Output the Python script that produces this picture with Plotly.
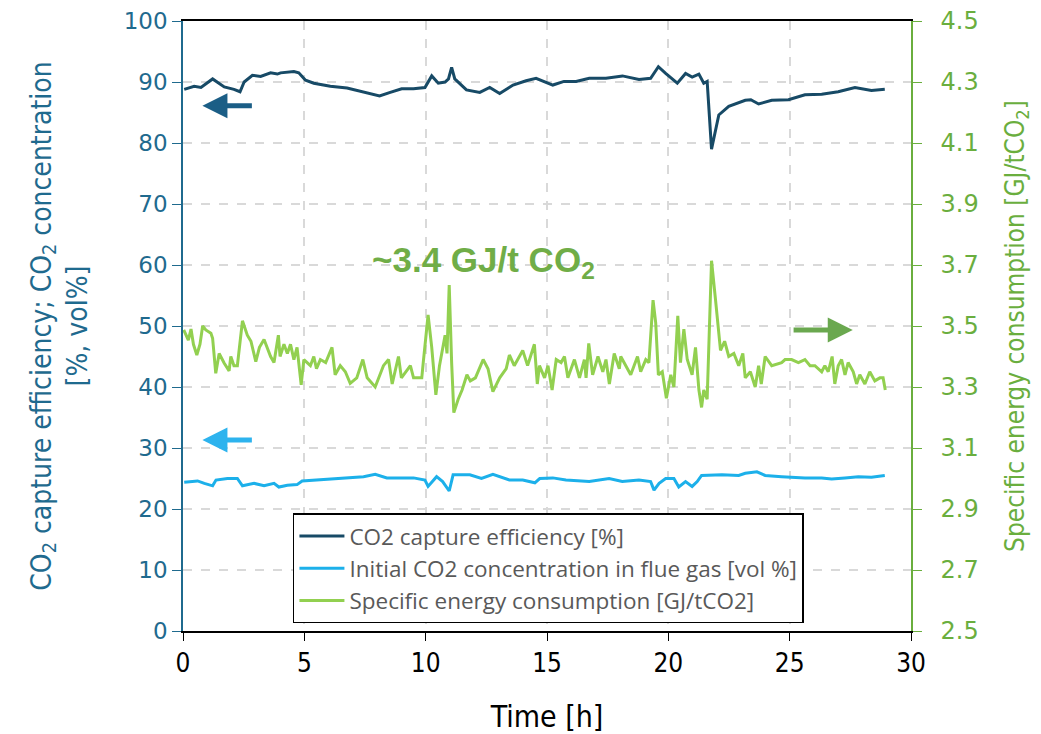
import plotly.graph_objects as go

# Time axis [h] and measured series
t_eff = [0.05, 0.46, 0.74, 1.22, 1.70, 2.10, 2.35, 2.52, 2.86, 3.20, 3.61, 3.89, 4.02, 4.57, 4.77,
         5.05, 5.39, 6.07, 6.76, 7.44, 8.10, 8.54, 9.01, 9.50, 9.97, 10.25, 10.52, 10.80, 10.94,
         11.07, 11.20, 11.68, 12.23, 12.64, 13.05, 13.60, 14.14, 14.55, 15.03, 15.24, 15.70,
         16.20, 16.74, 17.43, 18.11, 18.79, 19.27, 19.59, 19.89, 20.37, 20.71, 20.98, 21.26,
         21.46, 21.60, 21.78, 22.08, 22.49, 23.17, 23.40, 23.72, 24.26, 24.95, 25.63, 26.32,
         27.00, 27.69, 28.37, 28.92]
capture_eff = [88.8, 89.3, 89.1, 90.5, 89.2, 88.8, 88.4, 90.0, 91.1, 90.9, 91.5, 91.3, 91.5, 91.7,
               91.5, 90.3, 89.8, 89.3, 89.0, 88.4, 87.7, 88.3, 88.9, 88.9, 89.1, 91.0, 89.8, 90.0,
               90.5, 92.4, 90.5, 88.7, 88.3, 89.1, 88.1, 89.5, 90.2, 90.6, 89.9, 89.5, 90.1, 90.1,
               90.6, 90.6, 91.0, 90.4, 90.6, 92.5, 91.4, 89.8, 91.4, 90.8, 91.3, 89.8, 90.1, 79.0,
               84.6, 86.0, 87.0, 87.1, 86.4, 87.0, 87.1, 87.9, 88.0, 88.4, 89.1, 88.6, 88.8]

t_conc = [0.05, 0.60, 0.88, 1.22, 1.36, 1.83, 2.24, 2.45, 2.93, 3.34, 3.75, 3.95, 4.30, 4.70, 4.91,
          5.39, 6.07, 6.76, 7.44, 7.92, 8.40, 8.80, 9.50, 9.97, 10.10, 10.45, 10.70, 10.97, 11.13,
          11.82, 12.30, 12.77, 13.45, 14.00, 14.50, 14.70, 15.24, 15.78, 16.74, 17.56, 18.10,
          18.79, 19.27, 19.41, 19.62, 19.89, 20.23, 20.43, 20.71, 20.98, 21.19, 21.37, 22.21,
          22.90, 23.17, 23.65, 23.99, 24.67, 25.63, 26.32, 26.73, 27.28, 27.83, 28.37, 28.92]
co2_conc = [24.4, 24.6, 24.2, 23.8, 24.75, 25.0, 25.0, 23.8, 24.2, 23.8, 24.2, 23.6, 23.9, 24.0,
            24.6, 24.75, 24.9, 25.1, 25.3, 25.7, 25.1, 25.1, 25.1, 24.75, 23.7, 25.3, 24.5, 22.95,
            25.6, 25.6, 25.0, 25.7, 24.75, 24.75, 24.3, 25.0, 25.1, 24.75, 24.5, 25.0, 24.5, 24.75,
            24.5, 23.1, 24.2, 25.0, 25.0, 23.6, 24.5, 23.7, 24.5, 25.5, 25.6, 25.5, 25.85, 26.1,
            25.5, 25.3, 25.1, 25.1, 24.9, 25.1, 25.3, 25.2, 25.5]

t_sec = [0.03, 0.22, 0.33, 0.43, 0.57, 0.70, 0.81, 0.94, 1.15, 1.22, 1.35, 1.49, 1.70, 1.90, 1.97,
         2.10, 2.24, 2.45, 2.65, 2.80, 3.00, 3.15, 3.34, 3.61, 3.75, 3.93, 4.00, 4.16, 4.30, 4.43,
         4.57, 4.70, 4.87, 4.98, 5.25, 5.39, 5.50, 5.66, 5.88, 6.14, 6.27, 6.48, 6.69, 6.89, 7.16,
         7.41, 7.59, 7.92, 8.26, 8.47, 8.62, 8.88, 9.00, 9.37, 9.50, 9.84, 9.90, 10.10, 10.25,
         10.42, 10.57, 10.80, 10.88, 10.97, 11.07, 11.16, 11.34, 11.50, 11.70, 11.84, 12.05,
         12.37, 12.57, 12.77, 13.05, 13.32, 13.45, 13.65, 14.00, 14.20, 14.48, 14.60, 14.69,
         14.90, 15.04, 15.21, 15.38, 15.58, 15.72, 15.86, 16.13, 16.34, 16.54, 16.61, 16.72,
         16.88, 17.10, 17.30, 17.43, 17.57, 17.77, 17.98, 18.04, 18.25, 18.45, 18.73, 18.86,
         19.07, 19.20, 19.37, 19.48, 19.59, 19.75, 19.92, 20.10, 20.23, 20.39, 20.50, 20.64,
         20.78, 20.98, 21.12, 21.26, 21.37, 21.46, 21.60, 21.78, 21.94, 22.15, 22.32, 22.49,
         22.70, 22.90, 23.07, 23.17, 23.38, 23.58, 23.72, 23.83, 23.99, 24.26, 24.67, 24.81,
         25.08, 25.36, 25.63, 25.84, 26.04, 26.32, 26.45, 26.59, 26.75, 26.86, 27.00, 27.14,
         27.28, 27.41, 27.62, 27.76, 27.89, 28.10, 28.30, 28.51, 28.72, 28.85, 28.94]
sec = [3.487, 3.454, 3.49, 3.44, 3.405, 3.44, 3.50, 3.487, 3.476, 3.46, 3.345, 3.41, 3.378, 3.353,
       3.40, 3.37, 3.37, 3.517, 3.47, 3.45, 3.383, 3.43, 3.456, 3.40, 3.38, 3.47, 3.40, 3.44, 3.41,
       3.44, 3.39, 3.43, 3.307, 3.39, 3.37, 3.40, 3.36, 3.39, 3.38, 3.43, 3.34, 3.37, 3.35, 3.312,
       3.33, 3.39, 3.33, 3.30, 3.37, 3.39, 3.31, 3.40, 3.33, 3.37, 3.33, 3.33, 3.38, 3.536, 3.43,
       3.274, 3.37, 3.47, 3.41, 3.634, 3.38, 3.216, 3.26, 3.29, 3.34, 3.32, 3.33, 3.39, 3.36,
       3.285, 3.33, 3.36, 3.405, 3.37, 3.42, 3.37, 3.44, 3.31, 3.37, 3.33, 3.37, 3.29, 3.39, 3.38,
       3.40, 3.33, 3.39, 3.33, 3.39, 3.33, 3.443, 3.34, 3.40, 3.35, 3.39, 3.31, 3.41, 3.36, 3.40,
       3.37, 3.34, 3.40, 3.35, 3.39, 3.38, 3.585, 3.51, 3.34, 3.35, 3.263, 3.34, 3.30, 3.533, 3.38,
       3.49, 3.39, 3.34, 3.43, 3.29, 3.233, 3.29, 3.26, 3.714, 3.59, 3.42, 3.45, 3.40, 3.41, 3.37,
       3.41, 3.33, 3.35, 3.30, 3.37, 3.31, 3.40, 3.37, 3.38, 3.39, 3.39, 3.38, 3.39, 3.37, 3.37,
       3.35, 3.37, 3.35, 3.40, 3.31, 3.37, 3.39, 3.34, 3.38, 3.35, 3.31, 3.34, 3.31, 3.35, 3.32,
       3.33, 3.33, 3.29]

left_ticks = [0, 10, 20, 30, 40, 50, 60, 70, 80, 90, 100]
right_ticks = [2.5, 2.7, 2.9, 3.1, 3.3, 3.5, 3.7, 3.9, 4.1, 4.3, 4.5]
x_ticks = [0, 5, 10, 15, 20, 25, 30]

DARK = "#174A66"
LIGHT = "#1CB0EA"
GREEN = "#92D050"
AX_BLUE = "#1F6A8E"
AX_GREEN = "#6AAE3E"
GRID = "#D9D9D9"
NARROW = "DejaVu Sans Condensed, Liberation Sans Narrow, sans-serif"
TICKF = "DejaVu Sans, sans-serif"

fig = go.Figure()
fig.add_trace(go.Scatter(x=t_eff, y=capture_eff, mode="lines", name="CO2 capture efficiency [%]",
                         line=dict(color=DARK, width=3)))
fig.add_trace(go.Scatter(x=t_conc, y=co2_conc, mode="lines",
                         name="Initial CO2 concentration in flue gas [vol %]",
                         line=dict(color=LIGHT, width=3)))
fig.add_trace(go.Scatter(x=t_sec, y=sec, mode="lines", name="Specific energy consumption [GJ/tCO2]",
                         line=dict(color=GREEN, width=3), yaxis="y2"))

annotations = [
    # axis direction arrows
    dict(x=0.8, y=86.1, ax=2.9, ay=86.1, xref="x", yref="y", axref="x", ayref="y",
         showarrow=True, arrowhead=2, arrowsize=1, arrowwidth=5, arrowcolor="#1B5E86", text=""),
    dict(x=0.8, y=31.3, ax=2.9, ay=31.3, xref="x", yref="y", axref="x", ayref="y",
         showarrow=True, arrowhead=2, arrowsize=1, arrowwidth=5, arrowcolor="#2DB3EE", text=""),
    dict(x=27.6, y=3.487, ax=25.1, ay=3.487, xref="x", yref="y2", axref="x", ayref="y2",
         showarrow=True, arrowhead=2, arrowsize=1, arrowwidth=5, arrowcolor="#6AA84F", text=""),
    dict(x=12.4, y=3.71, xref="x", yref="y2", showarrow=False,
         text="<b>~3.4 GJ/t CO<sub>2</sub></b>",
         font=dict(family="Liberation Sans, Arial, sans-serif", size=35, color="#70AD47")),
]

fig.update_layout(
    width=1041, height=734,
    margin=dict(l=183, r=130, t=21, b=103, autoexpand=False),
    paper_bgcolor="white", plot_bgcolor="white",
    showlegend=True,
    legend=dict(x=0.151, y=0.193, xanchor="left", yanchor="top",
                bgcolor="white", bordercolor="black", borderwidth=1.5,
                font=dict(family="Open Sans, sans-serif", size=22.5, color="#595959"),
                itemwidth=45, tracegroupgap=0),
    xaxis=dict(range=[0, 30], tickvals=x_ticks, ticks="outside", ticklen=8, tickcolor="black",
               showline=True, linecolor="black", linewidth=1.5, mirror=True, automargin=False,
               showgrid=True, gridcolor=GRID, griddash="dash", gridwidth=1.5,
               zeroline=False,
               tickfont=dict(family=NARROW, size=26, color="black"),
               title=dict(text="Time [h]", font=dict(family=NARROW, size=30, color="black"),
                          standoff=30)),
    yaxis=dict(range=[0, 100], tickvals=left_ticks, ticks="outside", ticklen=9, tickcolor=AX_BLUE,
               showline=True, linecolor=AX_BLUE, linewidth=1.5, automargin=False,
               showgrid=True, gridcolor=GRID, griddash="dash", gridwidth=1.5, zeroline=False,
               tickfont=dict(family=TICKF, size=23, color=AX_BLUE),
               title=dict(text="CO<sub>2</sub> capture efficiency; CO<sub>2</sub> concentration<br>[%, vol%]",
                          font=dict(family=NARROW, size=28, color=AX_BLUE), standoff=28)),
    yaxis2=dict(range=[2.5, 4.5], tickvals=right_ticks, ticktext=[f"{v:.1f}" for v in right_ticks],
                overlaying="y", side="right", ticks="outside", ticklen=9, tickcolor=AX_GREEN,
                showline=True, linecolor=AX_GREEN, linewidth=1.5, showgrid=False, zeroline=False,
                automargin=False, ticklabelstandoff=14,
                tickfont=dict(family=TICKF, size=24, color=AX_GREEN),
                title=dict(text="Specific energy consumption [GJ/tCO<sub>2</sub>]",
                           font=dict(family=NARROW, size=26, color=AX_GREEN), standoff=28)),
    annotations=annotations,
)

fig.write_html("out.html")
